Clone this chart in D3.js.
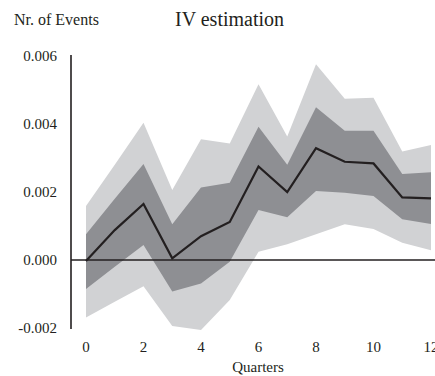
<!DOCTYPE html>
<html lang="en">
<head>
    <meta charset="UTF-8">
    <script src="https://d3js.org/d3.v7.min.js" charset="utf-8"></script>
    <title>IV estimation</title>
    <style>
        body { margin: 0; background: #fff; }
    </style>
</head>
<body>
    <div id="chart"></div>
    <script>
        const svgWidth = 435;
        const svgHeight = 376;

        // quarters after the event
        const quarters = [0, 1, 2, 3, 4, 5, 6, 7, 8, 9, 10, 11, 12];
        // point estimate
        const estimate = [-0.00003, 0.00088, 0.00165, 0.00005, 0.0007, 0.00112, 0.00275, 0.002, 0.00329, 0.00289, 0.00284, 0.00184, 0.00181];
        // inner band
        const innerUpper = [0.00076, 0.0018, 0.00282, 0.00105, 0.00213, 0.00227, 0.00392, 0.0028, 0.00449, 0.0038, 0.0038, 0.00253, 0.00258];
        const innerLower = [-0.00085, -0.0002, 0.00044, -0.00093, -0.00069, -0.00005, 0.00147, 0.00126, 0.00203, 0.00198, 0.00188, 0.0012, 0.00106];
        // outer band
        const outerUpper = [0.00159, 0.0028, 0.00404, 0.00206, 0.00355, 0.00343, 0.00517, 0.00363, 0.00576, 0.00474, 0.00477, 0.00319, 0.00338];
        const outerLower = [-0.00169, -0.00123, -0.00077, -0.00194, -0.00206, -0.00118, 0.00024, 0.00046, 0.00076, 0.00105, 0.00091, 0.00051, 0.00029];

        const yTicks = [-0.002, 0, 0.002, 0.004, 0.006];
        const xTicks = [0, 2, 4, 6, 8, 10, 12];

        const svg = d3.select("#chart").append("svg")
            .attr("width", svgWidth)
            .attr("height", svgHeight)
            .attr("font-family", "'Liberation Serif', 'Times New Roman', serif")
            .style("font-family", "'Liberation Serif', 'Times New Roman', serif");

        const x = d3.scaleLinear().domain([0, 12]).range([86, 431]);
        const y = d3.scaleLinear().domain([-0.002, 0.006]).range([328, 56]);

        const band = (lo, hi) => d3.area()
            .x((d, i) => x(quarters[i]))
            .y0((d, i) => y(lo[i]))
            .y1((d, i) => y(hi[i]));

        svg.append("path")
            .attr("d", band(outerLower, outerUpper)(quarters))
            .attr("fill", "#d1d2d4");

        svg.append("path")
            .attr("d", band(innerLower, innerUpper)(quarters))
            .attr("fill", "#8e8f93");

        // zero line
        svg.append("line")
            .attr("x1", 71).attr("x2", svgWidth)
            .attr("y1", y(0)).attr("y2", y(0))
            .attr("stroke", "#231f20")
            .attr("stroke-width", 1.6);

        // y axis line
        svg.append("line")
            .attr("x1", 71).attr("x2", 71)
            .attr("y1", 55).attr("y2", 329)
            .attr("stroke", "#231f20")
            .attr("stroke-width", 1.6);

        const line = d3.line()
            .x((d, i) => x(quarters[i]))
            .y(d => y(d));

        svg.append("path")
            .attr("d", line(estimate))
            .attr("fill", "none")
            .attr("stroke", "#231f20")
            .attr("stroke-width", 2.2)
            .attr("stroke-linejoin", "miter");

        const ink = "#231f20";

        // tick labels
        svg.selectAll(".ylab")
            .data(yTicks)
            .enter()
            .append("text")
            .attr("x", 57)
            .attr("y", d => y(d))
            .attr("dy", "0.35em")
            .attr("text-anchor", "end")
            .attr("font-size", 15)
            .attr("fill", ink)
            .text(d => d3.format(".3f")(d).replace("−", "-"));

        svg.selectAll(".xlab")
            .data(xTicks)
            .enter()
            .append("text")
            .attr("x", d => x(d))
            .attr("y", 347)
            .attr("dy", "0.35em")
            .attr("text-anchor", "middle")
            .attr("font-size", 15)
            .attr("fill", ink)
            .text(d => d);

        svg.append("text")
            .attr("x", 258).attr("y", 367)
            .attr("dy", "0.35em")
            .attr("text-anchor", "middle")
            .attr("font-size", 15)
            .attr("fill", ink)
            .text("Quarters");

        svg.append("text")
            .attr("x", 14).attr("y", 25)
            .attr("font-size", 16)
            .attr("fill", ink)
            .text("Nr. of Events");

        svg.append("text")
            .attr("x", 175).attr("y", 26)
            .attr("font-size", 20)
            .attr("fill", ink)
            .text("IV estimation");
    </script>
</body>
</html>
